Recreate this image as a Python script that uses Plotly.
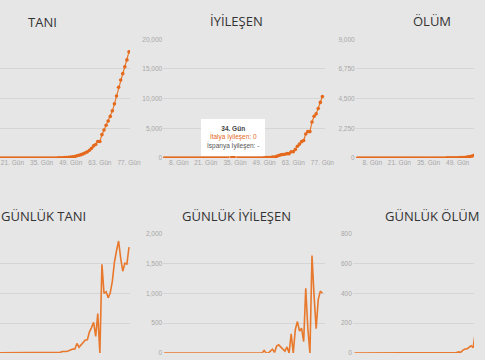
import plotly.graph_objects as go

# Day index (Gün) 1..77
days = list(range(1, 78))
tick_days = [8, 21, 35, 49, 63, 77]
tick_labels = ["8. Gün", "21. Gün", "35. Gün", "49. Gün", "63. Gün", "77. Gün"]

# Cumulative cases (TANI)
tani = [0, 0, 0, 0, 0, 0, 0, 0, 0, 0, 0, 0, 0, 0, 0, 0, 0, 0, 0, 0, 0,
        2, 2, 2, 2, 2, 2, 2,
        3, 3, 3, 3, 3, 3, 3, 3, 3, 3, 3, 3, 3, 3,
        20, 62, 155, 229, 322, 453, 655, 888, 1128,
        1694, 2036, 2502, 3089, 3858, 4636, 5883, 7375, 9172, 10149, 12462, 12462,
        17660, 21157, 24747, 27980, 31506, 35713, 41035, 47021, 53578, 59138,
        63927, 69176, 74386, 80589]

# Cumulative recovered (IYILESEN)
iyilesen = [0, 0, 0, 0, 0, 0, 0, 0, 0, 0, 0, 0, 0, 0, 0, 0, 0, 0, 0, 0, 0,
            0, 0, 0, 0, 0, 0, 0, 0, 0, 0, 0, 0, 0, 0, 0, 0, 0, 0, 0, 0, 0, 0,
            1, 2, 1, 1, 3, 45, 46, 46,
            83, 149, 160, 276, 414, 523, 589, 622, 724, 724, 1045, 1045,
            1439, 1966, 2335, 2749, 2941, 4025, 4440, 4440, 6072, 7024,
            7432, 8326, 9362, 10361]

# Cumulative deaths (OLUM)
olum = [0, 0, 0, 0, 0, 0, 0, 0, 0, 0, 0, 0, 0, 0, 0, 0, 0, 0, 0, 0, 0,
        0, 0, 0, 0, 0, 0, 0, 0, 0, 0, 0, 0, 0, 0, 0, 0, 0, 0, 0, 0, 0,
        1, 2, 3, 7, 10, 12, 17, 21, 29,
        34, 52, 79, 107, 148, 197, 233, 366, 463, 631, 827, 827,
        1266, 1441, 1809, 2158, 2503, 2978, 3405, 4032, 4825, 5476,
        6077, 6820, 7503, 8215]

# Daily cases
gunluk_tani = [0, 0, 0, 0, 0, 0, 0, 0, 0, 0, 0, 0, 0, 0, 0, 0, 0, 0, 0, 0, 0,
               2, 0, 0, 0, 0, 0, 0,
               1, 0, 0, 0, 0, 0, 0, 0, 0, 0, 0, 0, 0, 0,
               17, 42, 93, 74, 93, 131, 202, 233, 240,
               566, 342, 466, 587, 769, 778, 1247, 1492, 1797, 977, 2313, 0,
               5198, 3497, 3590, 3233, 3526, 4207, 5322, 5986, 6557, 5560,
               4789, 5249, 5210, 6203]

# Daily recovered
gunluk_iyilesen = [0, 0, 0, 0, 0, 0, 0, 0, 0, 0, 0, 0, 0, 0, 0, 0, 0, 0, 0, 0, 0,
                   0, 0, 0, 0, 0, 0, 0, 0, 0, 0, 0, 0, 0, 0, 0, 0, 0, 0, 0, 0, 0, 0,
                   1, 1, 0, 0, 2, 42, 1, 0,
                   37, 66, 11, 116, 138, 109, 66, 33, 102, 0, 321, 0,
                   394, 527, 369, 414, 192, 1084, 415, 0, 1632, 952,
                   408, 894, 1036, 999]

# Daily deaths
gunluk_olum = [0, 0, 0, 0, 0, 0, 0, 0, 0, 0, 0, 0, 0, 0, 0, 0, 0, 0, 0, 0, 0,
               0, 0, 0, 0, 0, 0, 0, 0, 0, 0, 0, 0, 0, 0, 0, 0, 0, 0, 0, 0, 0,
               1, 1, 1, 4, 3, 2, 5, 4, 8,
               5, 18, 27, 28, 41, 49, 36, 133, 97, 168, 196, 0,
               439, 175, 368, 349, 345, 475, 427, 627, 793, 651,
               601, 743, 683, 712]

hover_day = 34

ORANGE = "#e4691c"
LINE_ORANGE = "#e8782c"
BG = "#e6e6e6"
GRID = "#d5d5d5"
TICK = "#a6a6a6"
TITLE = "#333333"

W, H = 485, 360

def px(x):
    return x / W

def py(y):
    return 1 - y / H

fig = go.Figure()

# top row: line + markers
top = [(tani, "x", "y"), (iyilesen, "x2", "y2"), (olum, "x3", "y3")]
for vals, xa, ya in top:
    fig.add_trace(go.Scatter(x=days, y=vals, xaxis=xa, yaxis=ya, mode="lines+markers",
                             line=dict(color=LINE_ORANGE, width=1.2),
                             marker=dict(color=ORANGE, size=3.6),
                             hoverinfo="skip", showlegend=False))
# hovered point
fig.add_trace(go.Scatter(x=[hover_day], y=[iyilesen[hover_day - 1]], xaxis="x2", yaxis="y2",
                         mode="markers",
                         marker=dict(color=ORANGE, size=7, line=dict(color="#f3b58a", width=1)),
                         hoverinfo="skip", showlegend=False))

bottom = [(gunluk_tani, "x4", "y4"), (gunluk_iyilesen, "x5", "y5"), (gunluk_olum, "x6", "y6")]
for vals, xa, ya in bottom:
    fig.add_trace(go.Scatter(x=days, y=vals, xaxis=xa, yaxis=ya, mode="lines",
                             line=dict(color=LINE_ORANGE, width=1.6),
                             hoverinfo="skip", showlegend=False))

ppd = 2.13  # pixels per day

def xaxis(x0, x1, first_day_px, anchor, show=True):
    start = 1 - (first_day_px - x0) / ppd
    end = start + (x1 - x0) / ppd
    return dict(domain=[px(x0), min(1, px(x1))], range=[start, end], anchor=anchor,
                tickvals=tick_days, ticktext=tick_labels, showgrid=False, zeroline=False,
                showline=False, ticks="", showticklabels=show,
                tickfont=dict(size=6.5, color=TICK, family="Liberation Sans"),
                fixedrange=True)

def yaxis(dom, top_val, step_vals, anchor, show=True):
    return dict(domain=dom, range=[0, top_val], anchor=anchor, tickvals=step_vals,
                tickformat=",", showgrid=True, gridcolor=GRID, gridwidth=1, zeroline=False,
                showline=False, ticks="", showticklabels=show,
                tickfont=dict(size=6.5, color=TICK, family="Liberation Sans"), fixedrange=True)

top_dom = [py(157), py(36)]
bot_dom = [py(356), py(234)]

fig.update_layout(
    width=W, height=H, autosize=False,
    margin=dict(l=0, r=0, t=0, b=0),
    paper_bgcolor=BG, plot_bgcolor=BG,
    xaxis=xaxis(0, 133, 132 - 76 * ppd, "y"),
    xaxis2=xaxis(167, 333, 168, "y2"),
    xaxis3=xaxis(364, 485, 366, "y3"),
    xaxis4=xaxis(0, 133, 132 - 76 * ppd, "y4", show=False),
    xaxis5=xaxis(167, 333, 168, "y5", show=False),
    xaxis6=xaxis(361, 485, 362.7, "y6", show=False),
    yaxis=yaxis(top_dom, 90000, [0, 22500, 45000, 67500, 90000], "x", show=False),
    yaxis2=yaxis(top_dom, 20000, [0, 5000, 10000, 15000, 20000], "x2"),
    yaxis3=yaxis(top_dom, 9000, [0, 2250, 4500, 6750, 9000], "x3"),
    yaxis4=yaxis(bot_dom, 7000, [0, 1750, 3500, 5250, 7000], "x4", show=False),
    yaxis5=yaxis(bot_dom, 2000, [0, 500, 1000, 1500, 2000], "x5"),
    yaxis6=yaxis(bot_dom, 800, [0, 200, 400, 600, 800], "x6"),
)

titles = [("TANI", 43, 18), ("İYİLEŞEN", 242, 17), ("ÖLÜM", 442, 17),
          ("GÜNLÜK TANI", 45, 216), ("GÜNLÜK İYİLEŞEN", 242, 216.5), ("GÜNLÜK ÖLÜM", 442, 216.5)]
for text, cx, cy in titles:
    fig.add_annotation(text=text, x=px(cx), y=py(cy), xref="paper", yref="paper",
                       xanchor="center", yanchor="middle", showarrow=False,
                       font=dict(size=13, color=TITLE, family="Open Sans"))

# tooltip
fig.add_annotation(
    text=("<b>34. Gün</b><br><span style='color:%s'>İtalya İyileşen: 0</span><br>"
          "<span style='color:#555'>İspanya İyileşen: -</span>") % ORANGE,
    x=px(238), y=py(136), xref="paper", yref="paper", xanchor="center", yanchor="middle",
    showarrow=False, align="center", bgcolor="#ffffff", bordercolor="#ffffff", borderpad=5,
    font=dict(size=6.5, color="#444", family="Liberation Sans"))

fig.write_html("out.html", config={"displayModeBar": False},
               post_script="document.body.style.margin='0';document.body.style.overflow='hidden';")
